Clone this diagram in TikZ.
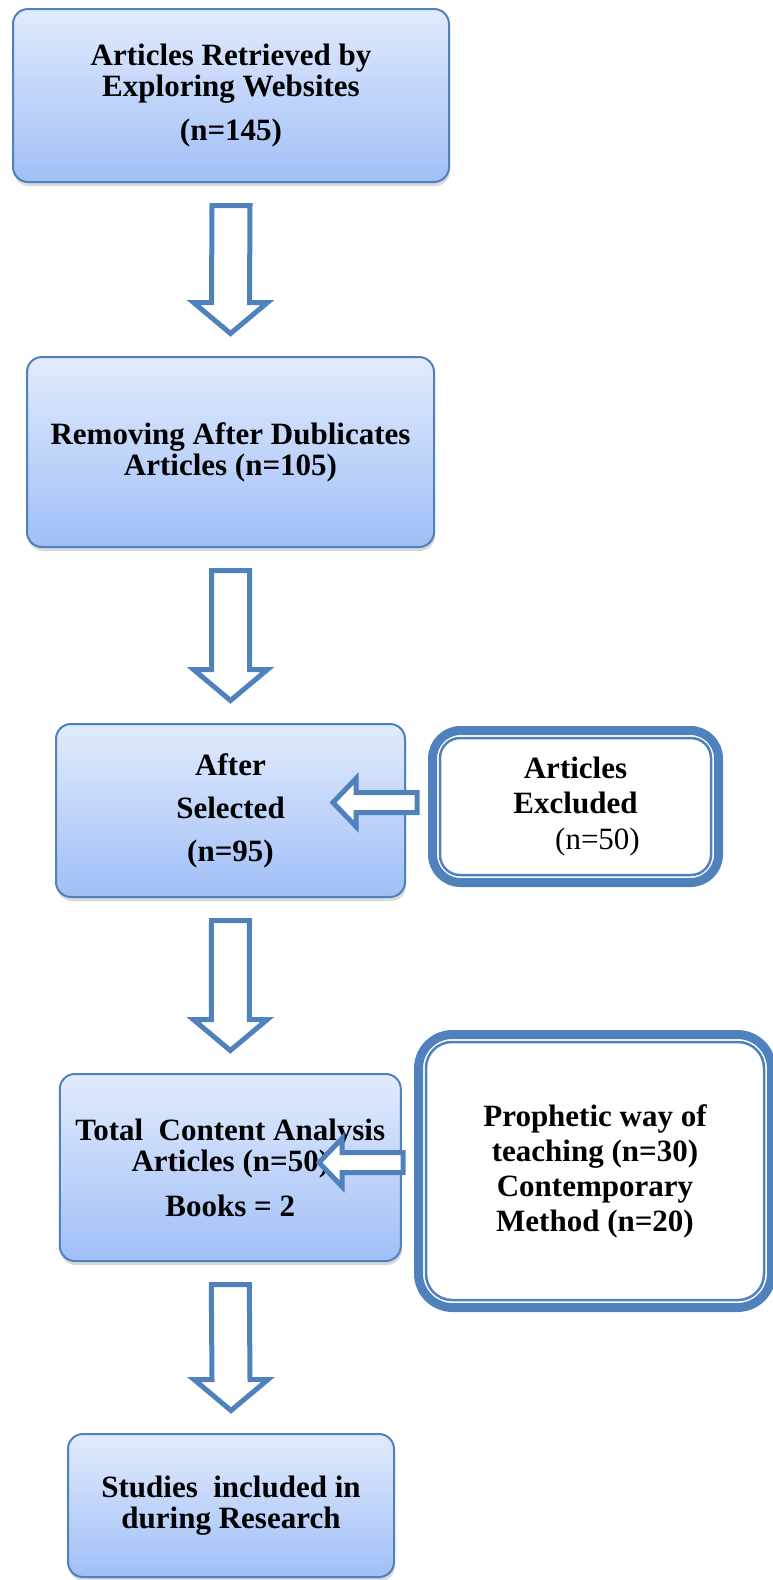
\documentclass[tikz,border=0pt]{standalone}
\usepackage{fontspec}
\setmainfont{Liberation Serif}
\usetikzlibrary{shadows,calc}
\definecolor{azul}{RGB}{79,129,189}
\definecolor{cielo}{RGB}{226,235,253}
\definecolor{fondo}{RGB}{160,191,247}
\tikzstyle{caja}=[rectangle,rounded corners=15pt,draw=azul,line width=2pt,top color=cielo,bottom color=fondo,align=center,font=\bfseries\fontsize{31}{31}\selectfont,drop shadow={shadow xshift=1pt,shadow yshift=-4pt,opacity=.3}]
\tikzstyle{marco}=[rectangle,draw=azul,line width=9pt,fill=white,align=center,font=\bfseries\fontsize{31}{31}\selectfont]
\tikzstyle{filo}=[draw=azul,line width=2.5pt]
\tikzstyle{flecha}=[draw=azul,fill=white,line width=5pt,line join=miter]
% flecha hueca hacia abajo entre dos cajas
\newcommand{\bajar}[2]{%
\draw[flecha] ($(#1.south)+(-19,22.5)$) -- ($(#1.south)+(19,22.5)$) -- ($(#2.north)+(19,-53.5)$) -- ($(#2.north)+(37,-53.5)$) -- ($(#2.north)+(0,-22.5)$) -- ($(#2.north)+(-37,-53.5)$) -- ($(#2.north)+(-19,-53.5)$) -- cycle;}
% flecha hueca hacia la izquierda desde una caja
\newcommand{\izq}[2]{%
\draw[flecha] ($(#1.west)+(-11,#2-10)$) -- ($(#1.west)+(-72,#2-10)$) -- ($(#1.west)+(-72,#2-24)$) -- ($(#1.west)+(-95,#2)$) -- ($(#1.west)+(-72,#2+24)$) -- ($(#1.west)+(-72,#2+10)$) -- ($(#1.west)+(-11,#2+10)$) -- cycle;}
\begin{document}
\begin{tikzpicture}[x=1pt,y=-1pt]
\useasboundingbox (0,0) rectangle (773,1580);
\node[caja,minimum width=436pt,minimum height=173pt] (ret) at (231,95.5) {Articles Retrieved by\\Exploring Websites\\[13pt](n=145)};
\node[caja,minimum width=407pt,minimum height=190pt] (dup) at (230.5,452) {Removing After Dublicates\\Articles (n=105)};
\node[caja,minimum width=349pt,minimum height=173pt] (sel) at (230.5,810.5) {After\\[12pt]Selected\\[12pt](n=95)};
\node[caja,minimum width=341pt,minimum height=187pt] (tot) at (230.3,1167.5) {Total\ \ Content Analysis\\Articles (n=50)\\[14pt]Books = 2};
\node[caja,minimum width=326pt,minimum height=143pt] (inc) at (231,1505.5) {Studies\ \ included in\\during Research};
\node[marco,minimum width=286pt,minimum height=152pt,rounded corners=28pt] (exc) at (575.5,806.5) {Articles\\[4pt]Excluded\\[5pt]\hspace*{44pt}{\mdseries(n=50)}};
\node[marco,minimum width=353pt,minimum height=273pt,rounded corners=34pt] (pro) at (595,1171) {Prophetic way of\\[4pt]teaching (n=30)\\[4pt]Contemporary\\[4pt]Method (n=20)};
\draw[filo,rounded corners=20pt] ($(exc.north west)+(12,12)$) rectangle ($(exc.south east)+(-12,-12)$);
\draw[filo,rounded corners=26pt] ($(pro.north west)+(12,12)$) rectangle ($(pro.south east)+(-12,-12)$);
\bajar{ret}{dup}
\bajar{dup}{sel}
\bajar{sel}{tot}
\bajar{tot}{inc}
\izq{exc}{-4}
\izq{pro}{-8.5}
\end{tikzpicture}
\end{document}
